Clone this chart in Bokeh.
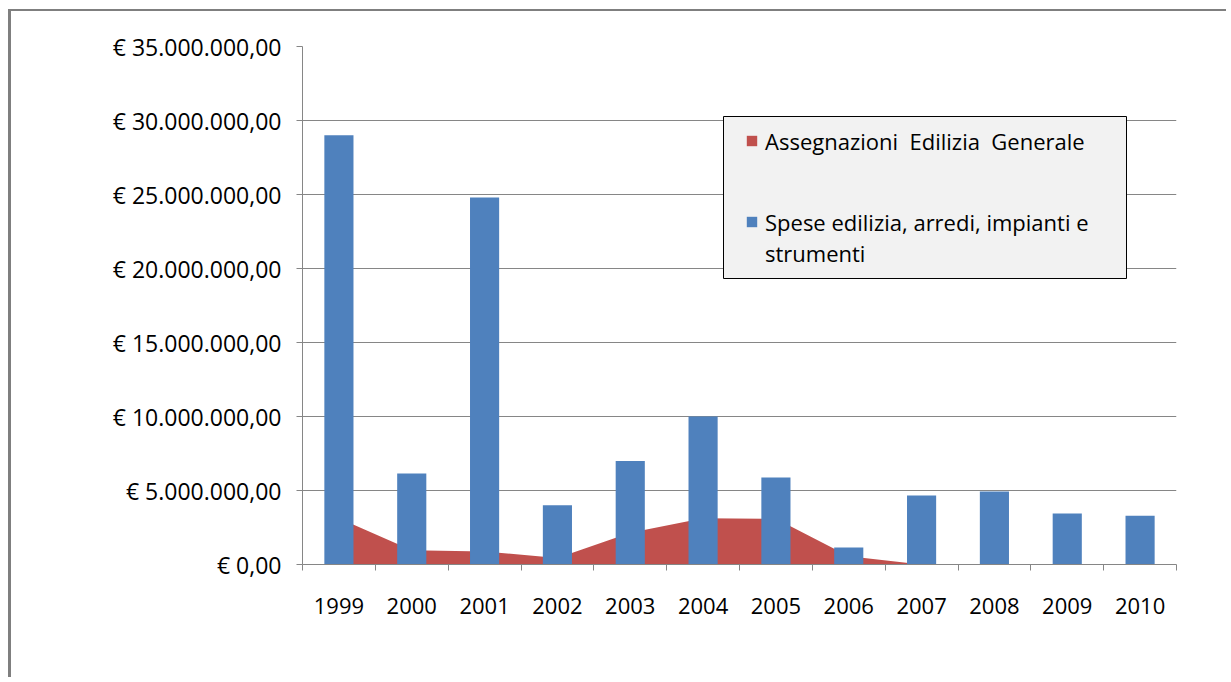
from bokeh.plotting import figure
from bokeh.models import FixedTicker, Range1d, Legend, LegendItem, BoxAnnotation
from bokeh.embed import file_html
from bokeh.resources import INLINE

# ---- data ----
years = ["1999", "2000", "2001", "2002", "2003", "2004",
         "2005", "2006", "2007", "2008", "2009", "2010"]
spese = [29.0e6, 6.15e6, 24.8e6, 4.0e6, 7.0e6, 10.0e6,
         5.88e6, 1.15e6, 4.66e6, 4.93e6, 3.45e6, 3.3e6]
assegnazioni = [3.12e6, 0.96e6, 0.88e6, 0.44e6, 2.15e6, 3.12e6,
                3.09e6, 0.55e6, 0.0, 0.0, 0.0, 0.0]
y_ticks = [0, 5e6, 10e6, 15e6, 20e6, 25e6, 30e6, 35e6]
y_tick_labels = ["€ 0,00", "€ 5.000.000,00", "€ 10.000.000,00", "€ 15.000.000,00",
                 "€ 20.000.000,00", "€ 25.000.000,00", "€ 30.000.000,00", "€ 35.000.000,00"]
legend_lines = ["Assegnazioni  Edilizia  Generale",
                "Spese edilizia, arredi, impianti e",
                "strumenti"]

RED = "#c0504d"
BLUE = "#4f81bd"
GRID = "#868686"
FONT = "Open Sans"

n = len(years)
xc = [i + 0.5 for i in range(n)]
YMAX = 35e6

p = figure(width=1218, height=668, output_backend="svg", toolbar_location=None,
           x_range=Range1d(0, n), y_range=Range1d(0, YMAX))
p.styles = {"margin-left": "8px", "margin-top": "9px",
            "border-top": "2px solid #7f7f7f", "border-left": "3px solid #7f7f7f"}
p.min_border_left = 291
p.min_border_right = 53
p.min_border_top = 35
p.min_border_bottom = 115
p.outline_line_color = None
p.background_fill_color = "white"
p.border_fill_color = "white"

px_y = YMAX / 518.0
px_x = n / 874.0

area = p.varea(x=xc, y1=[0] * n, y2=assegnazioni, fill_color=RED)
bars = p.vbar(x=xc, width=0.4, top=spese, fill_color=BLUE, line_color=None)

# x axis: labels at category centres, tick marks at category boundaries
p.xaxis.ticker = FixedTicker(ticks=xc, minor_ticks=list(range(n + 1)))
p.xaxis.major_label_overrides = {x: y for x, y in zip(xc, years)}
p.xaxis.major_tick_out = 0
p.xaxis.major_tick_in = 0
p.xaxis.minor_tick_out = 6
p.xaxis.minor_tick_in = 0
p.xaxis.minor_tick_line_color = GRID
p.xaxis.axis_line_color = GRID
p.xaxis.major_label_standoff = 27
p.xaxis.major_label_text_font = FONT
p.xaxis.major_label_text_font_size = "22px"
p.xaxis.major_label_text_color = "#000000"
p.xgrid.visible = False

p.yaxis.ticker = FixedTicker(ticks=y_ticks, minor_ticks=[])
p.yaxis.major_label_overrides = {t: l for t, l in zip(y_ticks, y_tick_labels)}
p.yaxis.major_tick_out = 6
p.yaxis.major_tick_in = 0
p.yaxis.major_tick_line_color = GRID
p.yaxis.axis_line_color = GRID
p.yaxis.major_label_standoff = 15
p.yaxis.major_label_text_font = FONT
p.yaxis.major_label_text_font_size = "23px"
p.yaxis.major_label_text_color = "#000000"
p.ygrid.grid_line_color = GRID
p.ygrid.grid_line_width = 1

# legend frame
p.add_layout(BoxAnnotation(left=421 * px_x, right=824 * px_x,
                           top=(518 - 70) * px_y, bottom=(518 - 232) * px_y,
                           fill_color="#f2f2f2", fill_alpha=1,
                           line_color="black", line_alpha=1, line_width=1))

common = dict(padding=0, margin=0, spacing=0, glyph_width=13, glyph_height=13,
              label_standoff=7, label_height=31, border_line_color=None,
              background_fill_alpha=0, label_text_font=FONT,
              label_text_font_size="22px", label_text_color="#000000")
leg1 = Legend(items=[LegendItem(label=legend_lines[0], renderers=[area])],
              location=(443, 408), **common)
leg2 = Legend(items=[LegendItem(label=legend_lines[1], renderers=[bars]),
                     LegendItem(label=legend_lines[2], renderers=[])],
              location=(443, 296), **common)
p.add_layout(leg1)
p.add_layout(leg2)

open("out.html", "w").write(file_html(p, INLINE))
